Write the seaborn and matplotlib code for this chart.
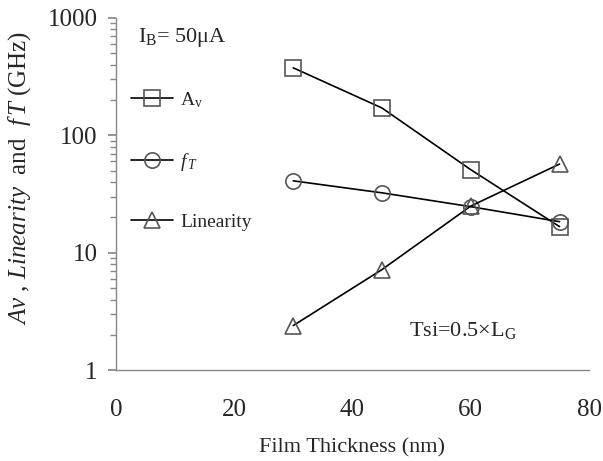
import numpy as np
import pandas as pd
import matplotlib
matplotlib.use("Agg")
import matplotlib.pyplot as plt
import seaborn as sns

thickness = [30, 45, 60, 75]
av_values = [376, 171, 51, 16.7]
ft_values = [41, 32.4, 24.7, 18.4]
linearity_values = [2.4, 7.2, 25, 57]
series_names = ["Av", "fT", "Linearity"]
legend_labels = [r"A$_\mathrm{v}$", r"$f\,_T$", "Linearity"]
x_ticks = [0, 20, 40, 60, 80]
y_ticks = [1, 10, 100, 1000]

df = pd.DataFrame({
    "x": thickness * 3,
    "y": av_values + ft_values + linearity_values,
    "series": [series_names[0]] * 4 + [series_names[1]] * 4 + [series_names[2]] * 4,
})

sns.set_theme(style="white")
plt.rcParams["font.family"] = ["Liberation Serif", "DejaVu Serif"]
plt.rcParams["mathtext.fontset"] = "custom"
plt.rcParams["mathtext.rm"] = "Liberation Serif"
plt.rcParams["mathtext.it"] = "Liberation Serif:italic"

fig = plt.figure(figsize=(6.03, 4.61), dpi=100)
ax = fig.add_axes([0.192, 0.197, 0.785, 0.764])

sns.lineplot(data=df, x="x", y="y", hue="series", style="series",
             markers={"Av": "s", "fT": "o", "Linearity": "^"}, dashes=False,
             palette={"Av": "black", "fT": "black", "Linearity": "black"},
             markersize=11, markerfacecolor="none", markeredgecolor="#555555",
             markeredgewidth=1.2, linewidth=1.2, ax=ax)

ax.set_yscale("log")
ax.set_xlim(0, 80)
ax.set_ylim(1, 1000)
ax.set_xticks(x_ticks)
ax.set_xticklabels([str(v) for v in x_ticks])
ax.set_yticks(y_ticks)
ax.set_yticklabels([str(v) for v in y_ticks])

for s in ["top", "right"]:
    ax.spines[s].set_visible(False)
for s in ["left", "bottom"]:
    ax.spines[s].set_color("#888888")
    ax.spines[s].set_linewidth(1.0)

ax.tick_params(axis="x", direction="in", length=8, color="#888888", labelsize=18, pad=21)
ax.tick_params(axis="y", which="major", direction="out", length=6, color="#888888",
               labelsize=18, left=True, pad=7)
ax.tick_params(axis="y", which="minor", direction="out", length=4, color="#888888", left=True)
ax.xaxis.set_minor_locator(matplotlib.ticker.NullLocator())

ax.set_xlabel("Film Thickness (nm)", fontsize=16, labelpad=12)
ax.set_ylabel(r"$Av$ , $Linearity$  and  $f\,T$ (GHz)", fontsize=18)
ax.yaxis.set_label_coords(-0.175, 0.545)

handles, labels = ax.get_legend_handles_labels()
hmap = dict(zip(labels, handles))
ax.legend([hmap[n] for n in series_names], legend_labels, loc="upper left",
          bbox_to_anchor=(0.032, 0.795), frameon=False, fontsize=14,
          handlelength=2.16, labelspacing=2.1, handletextpad=0.36,
          borderaxespad=0.0, borderpad=0.0)

ax.text(0.047, 0.945, r"I$_\mathrm{B}$= 50$\mathrm{\mu}$A", transform=ax.transAxes, fontsize=16,
        ha="left", va="center")
ax.text(0.62, 0.114, r"Tsi=0.5$\times$L$_\mathrm{G}$", transform=ax.transAxes, fontsize=16,
        ha="left", va="center")

fig.savefig("out.png", dpi=100)
